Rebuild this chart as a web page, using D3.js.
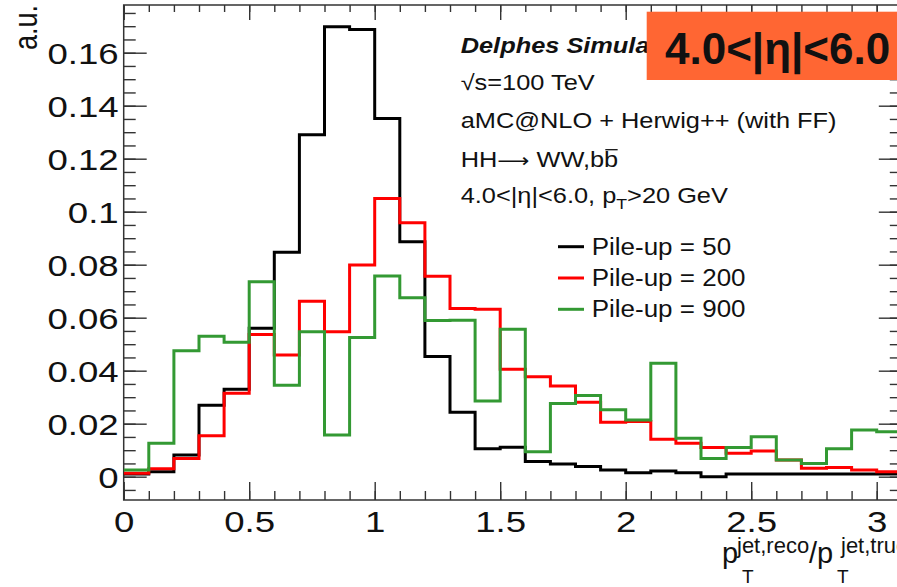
<!DOCTYPE html>
<html>
<head>
<meta charset="utf-8">
<script src="https://cdn.jsdelivr.net/npm/d3@7/dist/d3.min.js"></script>
<style>
  body { margin: 0; background: #fff; }
  svg { display: block; font-family: "Liberation Sans", Arial, Helvetica, sans-serif; }
</style>
</head>
<body>
<svg id="vis" width="897" height="587"></svg>
<script>
const binEdges = [0, 0.1, 0.2, 0.3, 0.4, 0.5, 0.6, 0.7, 0.8, 0.9, 1.0, 1.1, 1.2, 1.3, 1.4, 1.5,
  1.6, 1.7, 1.8, 1.9, 2.0, 2.1, 2.2, 2.3, 2.4, 2.5, 2.6, 2.7, 2.8, 2.9, 3.0, 3.1];

const pileup50 = [0.001, 0.0019, 0.0082, 0.027, 0.033, 0.056, 0.0847, 0.129, 0.1698, 0.1688,
  0.1352, 0.0887, 0.0454, 0.0243, 0.0105, 0.0111, 0.0057, 0.0048, 0.0038, 0.0025, 0.0015,
  0.0021, 0.0015, 0.0, 0.001, 0.001, 0.001, 0.001, 0.001, 0.001, 0.001];
const pileup200 = [0.0013, 0.003, 0.0069, 0.0154, 0.0315, 0.0537, 0.0459, 0.0662, 0.0547, 0.0799,
  0.105, 0.0958, 0.0756, 0.0635, 0.0632, 0.0405, 0.0377, 0.0342, 0.0281, 0.0205, 0.0208,
  0.0141, 0.0126, 0.011, 0.0088, 0.0097, 0.0063, 0.0032, 0.0035, 0.0025, 0.0019];
const pileup900 = [0.0025, 0.0126, 0.0475, 0.053, 0.0507, 0.0736, 0.0345, 0.0547, 0.0157, 0.0525,
  0.0757, 0.0675, 0.0589, 0.059, 0.0286, 0.0556, 0.0094, 0.0276, 0.0306, 0.0253, 0.0214,
  0.0428, 0.0145, 0.0069, 0.011, 0.0151, 0.0063, 0.005, 0.0105, 0.0176, 0.017];

const seriesLabels = ['Pile-up = 50', 'Pile-up = 200', 'Pile-up = 900'];
const seriesColors = ['#000000', '#ff0000', '#339933'];
const seriesValues = [pileup50, pileup200, pileup900];

const xMajorTicks = [0, 0.5, 1, 1.5, 2, 2.5, 3];
const yMajorTicks = [0, 0.02, 0.04, 0.06, 0.08, 0.1, 0.12, 0.14, 0.16];

const vis = d3.select('#vis');

const padLeft = 123.7, padRight = 901.8, padTop = 5, padBottom = 500;
const x = d3.scaleLinear().domain([0, 3.1]).range([padLeft, padRight]);
const y = d3.scaleLinear().domain([-0.0088, 0.178]).range([padBottom, padTop]);

const xMinorTicks = d3.range(0, 32).map(i => i / 10);
const yMinorTicks = d3.range(-1, 36).map(i => i * 0.005);

const fmtY = d => d === 0 ? '0' : String(+d.toFixed(2));
const fmtX = d => String(d);

function styleAxis(g) {
  g.select('.domain').remove();
  g.selectAll('.tick line').attr('stroke', '#333').attr('stroke-width', 1.4);
  g.attr('font-family', null).attr('font-size', null);
}

// bottom axis
vis.append('g').attr('transform', `translate(0,${padBottom})`)
  .call(d3.axisBottom(x).tickValues(xMinorTicks).tickSize(-9).tickFormat(''))
  .call(styleAxis);
const xAxis = vis.append('g').attr('transform', `translate(0,${padBottom})`)
  .call(d3.axisBottom(x).tickValues(xMajorTicks).tickSize(-18).tickSizeOuter(0).tickFormat(fmtX))
  .call(styleAxis);
xAxis.selectAll('.tick text')
  .attr('y', null).attr('dy', null)
  .attr('font-size', 30).attr('fill', '#111')
  .attr('text-anchor', 'middle')
  .attr('transform', 'translate(0,32) scale(1.22,1)');

// top axis
vis.append('g').attr('transform', `translate(0,${padTop})`)
  .call(d3.axisTop(x).tickValues(xMinorTicks).tickSize(-7).tickFormat(''))
  .call(styleAxis);
vis.append('g').attr('transform', `translate(0,${padTop})`)
  .call(d3.axisTop(x).tickValues(xMajorTicks).tickSize(-15).tickFormat(''))
  .call(styleAxis);

// left axis
vis.append('g').attr('transform', `translate(${padLeft},0)`)
  .call(d3.axisLeft(y).tickValues(yMinorTicks).tickSize(-12).tickFormat(''))
  .call(styleAxis);
const yAxis = vis.append('g').attr('transform', `translate(${padLeft},0)`)
  .call(d3.axisLeft(y).tickValues(yMajorTicks).tickSize(-23).tickFormat(fmtY))
  .call(styleAxis);
yAxis.selectAll('.tick text')
  .attr('x', null).attr('dy', null)
  .attr('font-size', 30).attr('fill', '#111')
  .attr('text-anchor', 'end')
  .attr('transform', 'translate(-5,11) scale(1.22,1)');

// right axis
vis.append('g').attr('transform', `translate(${padRight},0)`)
  .call(d3.axisRight(y).tickValues(yMinorTicks).tickSize(-12).tickFormat(''))
  .call(styleAxis);
vis.append('g').attr('transform', `translate(${padRight},0)`)
  .call(d3.axisRight(y).tickValues(yMajorTicks).tickSize(-23).tickFormat(''))
  .call(styleAxis);

vis.append('rect')
  .attr('x', padLeft).attr('y', padTop)
  .attr('width', padRight - padLeft).attr('height', padBottom - padTop)
  .attr('fill', 'none').attr('stroke', '#333').attr('stroke-width', 1.5);

vis.append('clipPath').attr('id', 'plot-clip')
  .append('rect')
  .attr('x', padLeft).attr('y', padTop)
  .attr('width', padRight - padLeft).attr('height', padBottom - padTop);

const histLine = d3.line()
  .x(d => x(d[0]))
  .y(d => y(d[1]))
  .curve(d3.curveStepAfter);

const histos = vis.append('g').attr('clip-path', 'url(#plot-clip)');
seriesValues.forEach((values, i) => {
  const pts = values.map((v, k) => [binEdges[k], v]);
  pts.push([binEdges[values.length], values[values.length - 1]]);
  histos.append('path')
    .datum(pts)
    .attr('d', histLine)
    .attr('fill', 'none')
    .attr('stroke', seriesColors[i])
    .attr('stroke-width', 3);
});

// legend
const legend = vis.append('g');
seriesLabels.forEach((label, i) => {
  const ly = 246.7 + i * 31.3;
  legend.append('line')
    .attr('x1', 558).attr('x2', 584)
    .attr('y1', ly).attr('y2', ly)
    .attr('stroke', seriesColors[i]).attr('stroke-width', 3);
  legend.append('text')
    .attr('transform', `translate(591.7,${ly + 8}) scale(1.13,1)`)
    .attr('font-size', 23).attr('fill', '#111')
    .text(label);
});

// header
function headerText(yPos, size) {
  return vis.append('g')
    .attr('transform', `translate(460.7,${yPos}) scale(1.18,1)`)
    .append('text')
    .attr('font-size', size).attr('fill', '#111');
}

headerText(53, 21.5)
  .attr('font-weight', 'bold').attr('font-style', 'italic')
  .text('Delphes Simulation');
headerText(90.3, 21.5).text('\u221As=100 TeV');
headerText(128.3, 21.5).text('aMC@NLO + Herwig++ (with FF)');
const hh = headerText(166.7, 21.5);
hh.append('tspan').text('HH');
hh.append('tspan').attr('font-family', 'DejaVu Sans').attr('font-size', 19).text('\u27F6');
hh.append('tspan').text(' WW,bb');
const bStart = hh.node().getSubStringLength(0, 8);
const bWidth = hh.node().getSubStringLength(8, 1);
d3.select(hh.node().parentNode).append('line')
  .attr('x1', bStart + 1).attr('x2', bStart + bWidth - 0.5)
  .attr('y1', -17).attr('y2', -17)
  .attr('stroke', '#111').attr('stroke-width', 1.3);
const eta = headerText(203.3, 21.5);
eta.append('tspan').text('4.0<|\u03B7|<6.0, p');
eta.append('tspan').attr('font-size', 15).attr('dy', 6).text('T');
eta.append('tspan').attr('dy', -6).text('>20 GeV');

// x axis title
const title = vis.append('g').attr('fill', '#111');
title.append('text').attr('x', 722).attr('y', 563).attr('font-size', 29).text('p');
title.append('text').attr('x', 737).attr('y', 553).attr('font-size', 22).text('jet,reco');
title.append('text').attr('x', 742).attr('y', 583).attr('font-size', 19).text('T');
title.append('text').attr('x', 809).attr('y', 563).attr('font-size', 29).text('/p');
title.append('text').attr('x', 841).attr('y', 553).attr('font-size', 22).text('jet,true');
title.append('text').attr('x', 837).attr('y', 583).attr('font-size', 19).text('T');

// y axis title
vis.append('text')
  .attr('transform', 'translate(37,5) scale(1.2,1) rotate(-90)')
  .attr('text-anchor', 'end')
  .attr('font-size', 27).attr('fill', '#111')
  .text('a.u.');

// region box
vis.append('rect')
  .attr('x', 646.7).attr('y', 11.7)
  .attr('width', 260).attr('height', 68.3)
  .attr('fill', '#ff6633');
vis.append('text')
  .attr('x', 665).attr('y', 63.5)
  .attr('font-size', 44).attr('font-weight', 'bold').attr('fill', '#111')
  .text('4.0<|\u03B7|<6.0');
</script>
</body>
</html>
